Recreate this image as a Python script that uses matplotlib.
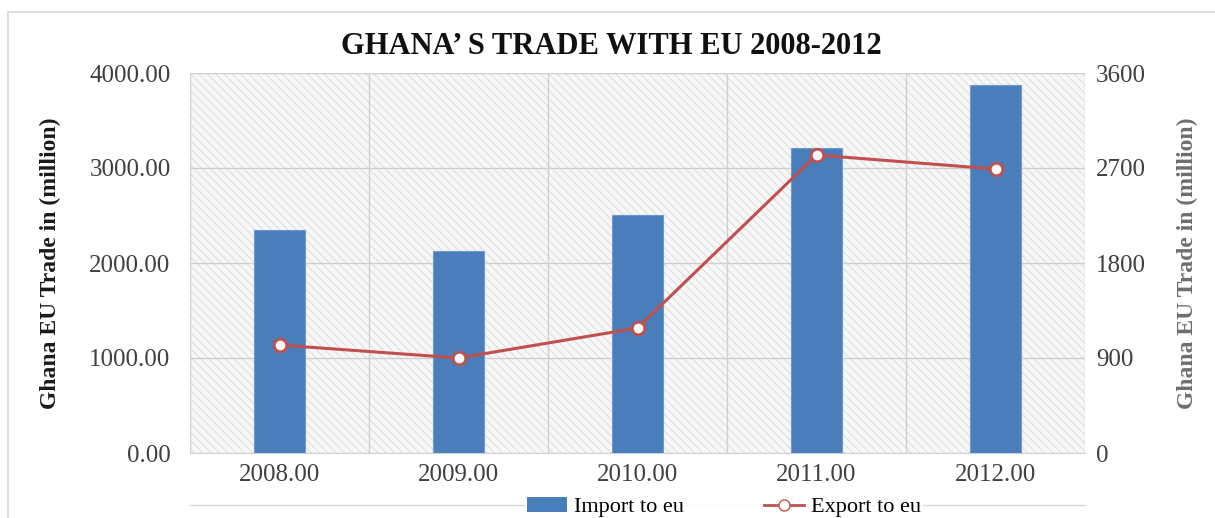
import numpy as np
import matplotlib
matplotlib.use("Agg")
from matplotlib import pyplot as plt
from matplotlib.patches import Rectangle
from matplotlib.lines import Line2D

years = ["2008.00", "2009.00", "2010.00", "2011.00", "2012.00"]
imports = [2347, 2126, 2505, 3210, 3874]
exports = [1023, 900, 1184, 2823, 2690]
left_ticks = [0, 1000, 2000, 3000, 4000]
right_ticks = [0, 900, 1800, 2700, 3600]

plt.rcParams['font.family'] = ['Liberation Serif', 'DejaVu Serif']
plt.rcParams['hatch.linewidth'] = 0.6
plt.rcParams['hatch.color'] = '#d8d8d8'

fig = plt.figure(figsize=(12.15, 5.18), dpi=100)
# outer chart frame
fig.patches.append(Rectangle((8 / 1215, -0.1), 1.0, 1 - 12 / 518 + 0.1,
                             transform=fig.transFigure, fill=False,
                             edgecolor='#d9d9d9', linewidth=1.2))
# faint line under the tick labels (edge of the cropped data table)
fig.lines.append(Line2D([190 / 1215, 1085 / 1215], [1 - 505 / 518] * 2,
                        transform=fig.transFigure, color='#d9d9d9', linewidth=1))

ax = fig.add_axes([190 / 1215, 1 - 453 / 518, 895 / 1215, 380 / 518])
ax.set_facecolor('#f7f7f7')
ax.add_patch(Rectangle((0, 0), 1, 1, transform=ax.transAxes, facecolor='none',
                       hatch='\\\\\\\\', edgecolor='#d8d8d8', linewidth=0, zorder=0))

x = np.arange(len(years))
ax.bar(x, imports, width=0.28, color='#4a7ebb', edgecolor='#6f9ad0',
       linewidth=0.8, zorder=3)
ax.set_xlim(-0.5, len(years) - 0.5)
ax.set_ylim(0, 4000)
ax.set_yticks(left_ticks)
ax.set_yticklabels(["%.2f" % v for v in left_ticks])
ax.set_xticks(x)
ax.set_xticklabels(years)
ax.set_xticks(np.arange(len(years) + 1) - 0.5, minor=True)
ax.grid(axis='y', color='#d0d0d0', linewidth=1, zorder=1)
ax.grid(axis='x', which='minor', color='#d0d0d0', linewidth=1, zorder=1)
ax.tick_params(axis='both', which='both', length=0, labelsize=18,
               labelcolor='#404040')
ax.tick_params(axis='y', pad=14)
ax.tick_params(axis='x', pad=8)
for s in ax.spines.values():
    s.set_visible(False)
ax.spines['bottom'].set_visible(True)
ax.spines['bottom'].set_color('#d0d0d0')
ax.set_ylabel("Ghana EU Trade in (million)", fontsize=17, fontweight='bold',
              color='#1a1a1a', labelpad=20)

ax2 = ax.twinx()
ax2.plot(x, exports, color='#c0504d', linewidth=2.2, marker='o', markersize=9,
         markerfacecolor='white', markeredgecolor='#c0504d', markeredgewidth=2,
         zorder=4)
ax2.set_ylim(0, 3600)
ax2.set_yticks(right_ticks)
ax2.tick_params(axis='y', length=0, labelsize=18, labelcolor='#404040', pad=8)
for s in ax2.spines.values():
    s.set_visible(False)
ax2.set_ylabel("Ghana EU Trade in (million)", fontsize=17, fontweight='bold',
               color='#6e6e6e', labelpad=22)

fig.text(0.503, 1 - 46 / 518, "GHANA’ S TRADE WITH EU 2008-2012", ha='center',
         va='center', fontsize=22, fontweight='bold', color='#111111')

handles = [Rectangle((0, 0), 1, 1, facecolor='#4a7ebb'),
           Line2D([], [], color='#c0504d', linewidth=2, marker='o', markersize=8,
                  markerfacecolor='white', markeredgecolor='#c0504d')]
leg = fig.legend(handles, ["Import to eu", "Export to eu"], loc='center',
                 bbox_to_anchor=(724 / 1215, 1 - 507 / 518), ncol=2, frameon=True,
                 fontsize=16, handlelength=1.8, columnspacing=3.6,
                 handletextpad=0.3, borderpad=0.1)
leg.get_frame().set_facecolor('white')
leg.get_frame().set_edgecolor('none')

fig.savefig("out.png", dpi=100)
